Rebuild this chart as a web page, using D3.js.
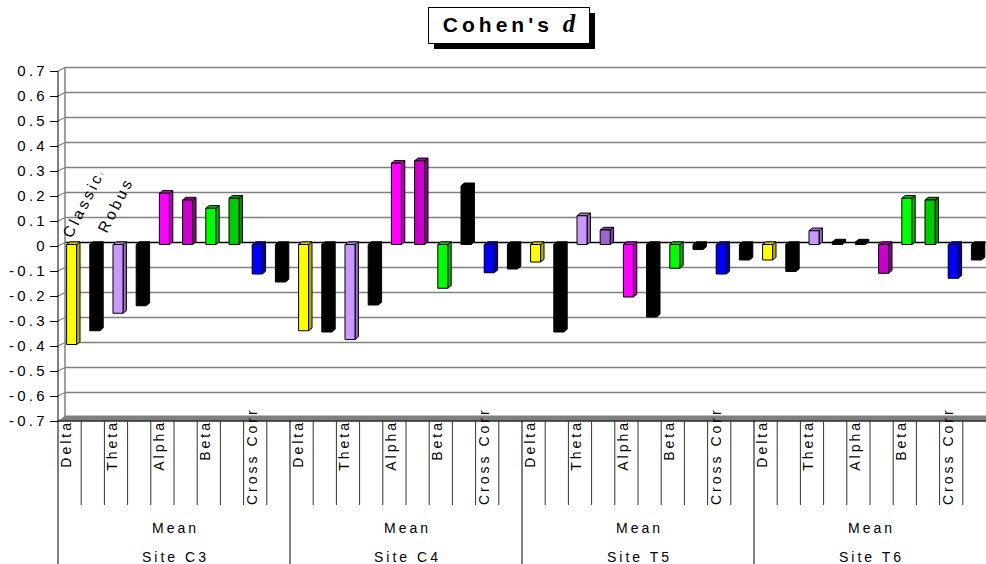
<!DOCTYPE html>
<html>
<head>
<meta charset="utf-8">
<script src="https://cdn.jsdelivr.net/npm/d3@7"></script>
<style>
  body { margin: 0; background: #ffffff; }
  svg { display: block; font-family: Arial, "Liberation Sans", sans-serif; }
</style>
</head>
<body>
<svg id="chart" width="986" height="564"></svg>
<script>
// ---- data -------------------------------------------------------------
const sites = ["Site C3", "Site C4", "Site T5", "Site T6"];
const statistic = "Mean";
const bands = ["Delta", "Theta", "Alpha", "Beta", "Cross Corr"];
const methods = ["Classical", "Robust"];

// Cohen's d by site (rows) and band (columns)
const classicalD = [
  [-0.400, -0.275,  0.205,  0.145, -0.118],
  [-0.345, -0.380,  0.325, -0.175, -0.113],
  [-0.070,  0.115, -0.210, -0.095, -0.118],
  [-0.062,  0.055,  0.010,  0.185, -0.135]
];
const robustD = [
  [-0.345, -0.245,  0.178,  0.185, -0.150],
  [-0.350, -0.242,  0.335,  0.235, -0.098],
  [-0.350,  0.058, -0.290, -0.020, -0.062],
  [-0.108,  0.010, -0.115,  0.178, -0.062]
];

const yTicks = [0.7, 0.6, 0.5, 0.4, 0.3, 0.2, 0.1, 0, -0.1, -0.2, -0.3, -0.4, -0.5, -0.6, -0.7];
const yTickLabels = ["0.7", "0.6", "0.5", "0.4", "0.3", "0.2", "0.1", "0",
                     "-0.1", "-0.2", "-0.3", "-0.4", "-0.5", "-0.6", "-0.7"];

// fill of each column, site by site (band order, classical then robust)
const barColors = [
  ["#FFFF00", "#000000", "#CC99FF", "#000000", "#FF00FF", "#CC00CC", "#00FF00", "#00CC00", "#0000FF", "#000000"],
  ["#FFFF00", "#000000", "#CC99FF", "#000000", "#FF00FF", "#CC00CC", "#00FF00", "#000000", "#0000FF", "#000000"],
  ["#FFFF00", "#000000", "#CC99FF", "#9966CC", "#FF00FF", "#000000", "#00FF00", "#000000", "#0000FF", "#000000"],
  ["#FFFF00", "#000000", "#CC99FF", "#000000", "#000000", "#CC00CC", "#00FF00", "#00CC00", "#0000FF", "#000000"]
];

// ---- flatten into one row per column ------------------------------------
const rows = [];
sites.forEach((site, si) => {
  bands.forEach((band, bi) => {
    methods.forEach((method, mi) => {
      const k = rows.length % 10;
      rows.push({
        key: site + "|" + band + "|" + method,
        site, band, method, si, mi,
        label: mi === 0 ? band : "",
        value: (mi === 0 ? classicalD : robustD)[si][bi],
        color: barColors[si][k]
      });
    });
  });
});

// ---- layout -------------------------------------------------------------
const W = 986, H = 564;
const left = 58, right = W;
const yTop = 71, yBottom = 421;
const depthX = 7, depthY = -3.5;        // wall depth
const barDX = 3.4, barDY = -2.7;        // column depth
const barShiftY = -1.5;                 // columns sit midway into the depth
const bandBottom = 505;                 // bottom of the category tick band

const svg = d3.select("#chart");

const x = d3.scaleBand().domain(rows.map(d => d.key)).range([left, right]).padding(0);
const y = d3.scaleLinear().domain([-0.7, 0.7]).range([yBottom, yTop]);

// ---- walls and gridlines --------------------------------------------------
const walls = svg.append("g");
walls.selectAll("line.grid")
  .data(yTicks)
  .join("line")
  .attr("class", "grid")
  .attr("x1", left + depthX).attr("x2", right)
  .attr("y1", d => y(d) + depthY).attr("y2", d => y(d) + depthY)
  .attr("stroke", d => d === 0 ? "#000000" : "#808080")
  .attr("stroke-width", d => d === 0 ? 1.3 : 1.5);

walls.selectAll("line.side")
  .data(yTicks)
  .join("line")
  .attr("class", "side")
  .attr("x1", left).attr("x2", left + depthX)
  .attr("y1", d => y(d)).attr("y2", d => y(d) + depthY)
  .attr("stroke", "#808080").attr("stroke-width", 1.2);

walls.append("line")
  .attr("x1", left + depthX).attr("x2", left + depthX)
  .attr("y1", y(0.7) + depthY).attr("y2", y(-0.7) + depthY)
  .attr("stroke", "#808080").attr("stroke-width", 1.5);

// floor
walls.append("path")
  .attr("d", `M${left},${yBottom + 0.5}L${left + depthX},${yBottom - 5.5}L${right},${yBottom - 5.5}L${right},${yBottom + 0.5}Z`)
  .attr("fill", "#808080");

// ---- value axis -------------------------------------------------------------
const yAxis = d3.axisLeft(y)
  .tickValues(yTicks)
  .tickFormat((d, i) => yTickLabels[i])
  .tickSize(8)
  .tickPadding(2);

const yg = svg.append("g")
  .attr("transform", `translate(${left},0)`)
  .call(yAxis);
yg.select(".domain").remove();
yg.selectAll(".tick line").attr("stroke", "#000000");
yg.selectAll(".tick text")
  .attr("font-size", 15)
  .attr("letter-spacing", 3.3)
  .attr("fill", "#000000")
  .attr("font-family", "Arial, 'Liberation Sans', sans-serif");

svg.append("line")
  .attr("x1", left).attr("x2", left)
  .attr("y1", y(0.7)).attr("y2", yBottom)
  .attr("stroke", "#000000").attr("stroke-width", 1);

// ---- 3-D columns -------------------------------------------------------------
const barOffset = 8.6, barWidth = 10;
const by = v => y(v) + barShiftY;

const bars = svg.append("g").selectAll("g.bar")
  .data(rows)
  .join("g")
  .attr("class", "bar");

bars.each(function (d) {
  const g = d3.select(this);
  const x0 = x(d.key) + barOffset, x1 = x0 + barWidth;
  const yv = by(d.value), y0 = by(0);
  const top = Math.min(yv, y0), bottom = Math.max(yv, y0);
  const c = d3.color(d.color);
  const side = d.color === "#000000" ? "#000000" : c.darker(0.9).formatHex();
  const cap = d.color === "#000000" ? "#000000" : c.darker(0.6).formatHex();
  const outline = sel => sel.attr("stroke", "#000000").attr("stroke-width", 1).attr("stroke-linejoin", "round");

  // right side face
  g.append("path")
    .attr("d", `M${x1},${top}L${x1 + barDX},${top + barDY}L${x1 + barDX},${bottom + barDY}L${x1},${bottom}Z`)
    .attr("fill", side).call(outline);
  // top face
  g.append("path")
    .attr("d", `M${x0},${top}L${x0 + barDX},${top + barDY}L${x1 + barDX},${top + barDY}L${x1},${top}Z`)
    .attr("fill", cap).call(outline);
  // front face
  g.append("rect")
    .attr("x", x0).attr("y", top)
    .attr("width", barWidth).attr("height", Math.max(bottom - top, 0.01))
    .attr("fill", d.color).call(outline);
});

// ---- method labels over the first pair of columns -------------------------------
const defs = svg.append("defs");
const methodLabels = [
  { text: methods[0], key: rows[0].key, dx: 13.5, dy: 239, clip: 72 },
  { text: methods[1], key: rows[1].key, dx: 25.5, dy: 234, clip: 59 }
];
methodLabels.forEach((m, i) => {
  defs.append("clipPath").attr("id", "mclip" + i)
    .append("rect").attr("x", -2).attr("y", -18).attr("width", m.clip + 2).attr("height", 24);
  svg.append("text")
    .attr("transform", `translate(${x(m.key) + m.dx},${m.dy}) rotate(-63)`)
    .attr("clip-path", `url(#mclip${i})`)
    .attr("font-size", 15.5)
    .attr("letter-spacing", 3)
    .text(m.text);
});

// ---- category axis --------------------------------------------------------------
const cat = svg.append("g");
cat.append("line")
  .attr("x1", left).attr("x2", right)
  .attr("y1", yBottom).attr("y2", yBottom)
  .attr("stroke", "#000000");

cat.selectAll("line.tick")
  .data(rows)
  .join("line")
  .attr("class", "tick")
  .attr("x1", d => x(d.key)).attr("x2", d => x(d.key))
  .attr("y1", yBottom)
  .attr("y2", (d, i) => i % 10 === 0 ? H : bandBottom)
  .attr("stroke", (d, i) => i % 10 === 0 ? "#000000" : "#333333")
  .attr("stroke-width", 1);

cat.selectAll("text.band")
  .data(rows.filter(d => d.label))
  .join("text")
  .attr("class", "band")
  .attr("font-size", 14)
  .attr("letter-spacing", 3)
  .text(d => d.label)
  .each(function (d) {
    const t = d3.select(this);
    const len = this.getComputedTextLength();
    const fits = len <= bandBottom - yBottom;
    t.attr("text-anchor", fits ? "end" : "start")
     .attr("transform", `translate(${x(d.key) + 13},${fits ? yBottom - 1 : bandBottom}) rotate(-90)`);
  });

const siteScale = d3.scaleBand().domain(sites).range([left, right]).padding(0);

cat.selectAll("text.stat")
  .data(sites)
  .join("text")
  .attr("class", "stat")
  .attr("x", d => siteScale(d) + siteScale.bandwidth() / 2 + 1.5)
  .attr("y", 532.5)
  .attr("text-anchor", "middle")
  .attr("font-size", 14)
  .attr("letter-spacing", 3)
  .text(statistic);

cat.selectAll("text.site")
  .data(sites)
  .join("text")
  .attr("class", "site")
  .attr("x", d => siteScale(d) + siteScale.bandwidth() / 2 + 1.5)
  .attr("y", 561.5)
  .attr("text-anchor", "middle")
  .attr("font-size", 14)
  .attr("letter-spacing", 3)
  .text(d => d);

// ---- title ------------------------------------------------------------------------
const title = svg.append("g");
title.append("rect").attr("x", 434).attr("y", 13).attr("width", 161).attr("height", 36).attr("fill", "#000000");
title.append("rect").attr("x", 428.5).attr("y", 7.5).attr("width", 161).attr("height", 36)
  .attr("fill", "#ffffff").attr("stroke", "#000000").attr("stroke-width", 1);
const tt = title.append("text")
  .attr("x", 511).attr("y", 32)
  .attr("text-anchor", "middle")
  .attr("font-size", 21)
  .attr("font-weight", "bold")
  .attr("letter-spacing", 4);
tt.append("tspan").text("Cohen's ");
tt.append("tspan")
  .attr("font-family", "'Liberation Serif', 'DejaVu Serif', serif")
  .attr("font-style", "italic")
  .attr("font-size", 25)
  .text("d");
</script>
</body>
</html>
